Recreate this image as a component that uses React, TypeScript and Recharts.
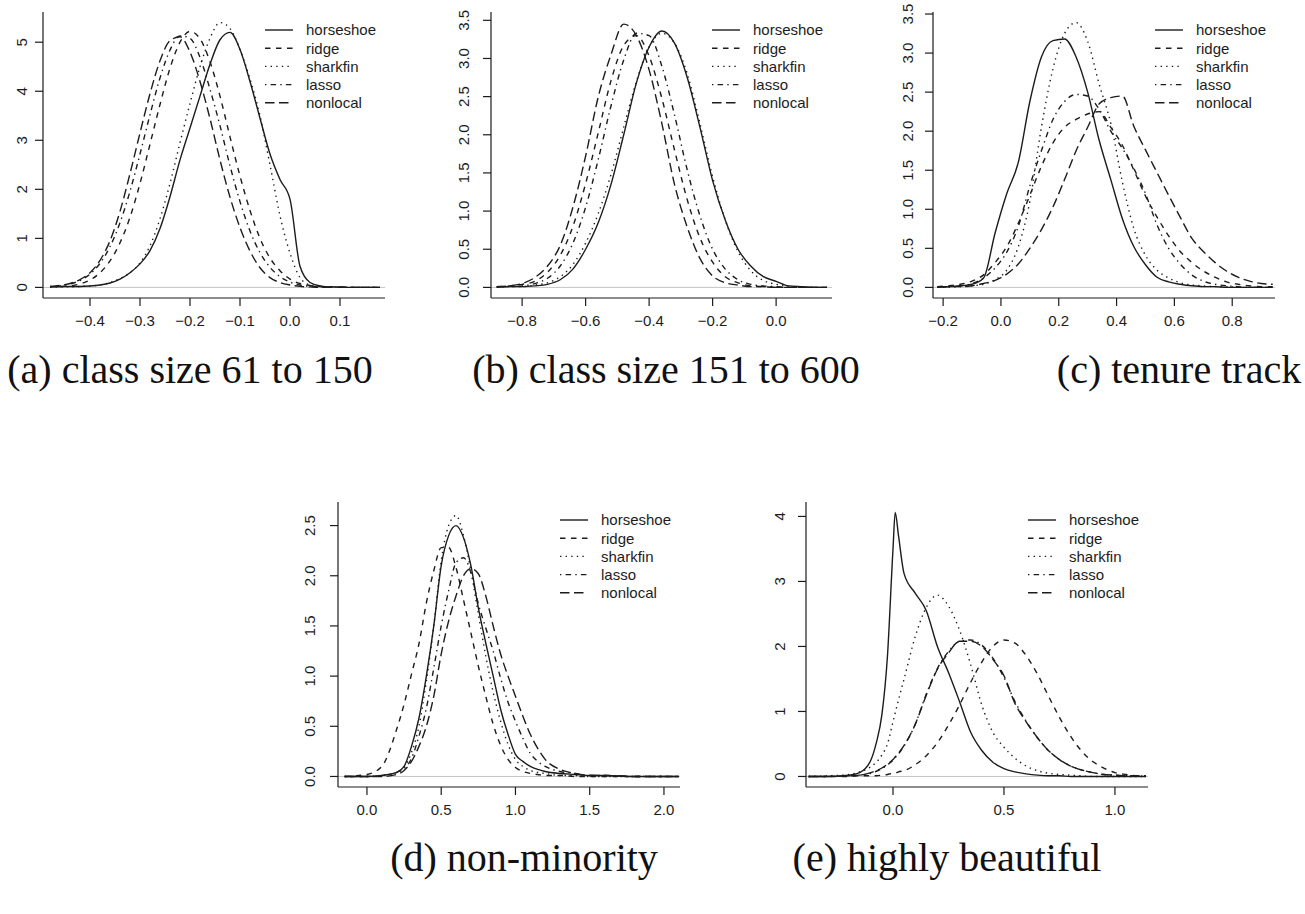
import React from "react";
import { LineChart, Line, XAxis, YAxis, ReferenceLine, Legend } from "recharts";

const SANS = '"Liberation Sans", Arial, Helvetica, sans-serif';
const SERIF = '"Liberation Serif", "Times New Roman", serif';
const INK = "#1c1c1c";

const seriesNames = ["horseshoe", "ridge", "sharkfin", "lasso", "nonlocal"];
const dashes = [undefined, "5.5 5.5", "1.4 4.2", "1.4 4.2 5.5 4.2", "9.5 4.5"];

// (a) class size 61 to 150
const xsA = [-0.48, -0.46, -0.44, -0.42, -0.4, -0.38, -0.36, -0.34, -0.32, -0.3, -0.28, -0.26, -0.24, -0.22, -0.2, -0.18, -0.16, -0.14, -0.12, -0.1, -0.08, -0.06, -0.04, -0.02, 0, 0.02, 0.04, 0.06, 0.08, 0.1, 0.12, 0.14, 0.16, 0.18];
const horseshoeA = [0.01, 0.01, 0.02, 0.02, 0.03, 0.05, 0.09, 0.17, 0.3, 0.48, 0.75, 1.2, 1.85, 2.6, 3.25, 3.9, 4.55, 5.05, 5.2, 4.85, 4.2, 3.45, 2.72, 2.2, 1.8, 0.43, 0.1, 0.03, 0.01, 0.01, 0, 0, 0, 0];
const ridgeA = [0.01, 0.02, 0.03, 0.07, 0.15, 0.3, 0.54, 0.91, 1.43, 2.12, 2.92, 3.73, 4.47, 5.0, 5.22, 5.07, 4.6, 3.9, 3.07, 2.27, 1.57, 1.0, 0.6, 0.34, 0.17, 0.08, 0.04, 0.02, 0.01, 0.01, 0, 0, 0, 0];
const sharkfinA = [0, 0.01, 0.01, 0.02, 0.03, 0.05, 0.1, 0.18, 0.3, 0.5, 0.85, 1.4, 2.12, 2.95, 3.75, 4.5, 5.08, 5.4, 5.28, 4.85, 4.25, 3.5, 2.5, 1.46, 0.7, 0.2, 0.05, 0.02, 0.01, 0, 0, 0, 0, 0];
const lassoA = [0.02, 0.03, 0.07, 0.14, 0.27, 0.49, 0.83, 1.32, 1.96, 2.72, 3.52, 4.27, 4.84, 5.13, 5.08, 4.69, 4.04, 3.3, 2.48, 1.75, 1.15, 0.71, 0.41, 0.22, 0.11, 0.05, 0.02, 0.01, 0, 0, 0, 0, 0, 0];
const nonlocalA = [0.02, 0.04, 0.08, 0.16, 0.3, 0.55, 0.95, 1.55, 2.32, 3.15, 3.95, 4.62, 5.03, 5.11, 4.8, 4.2, 3.44, 2.6, 1.84, 1.22, 0.74, 0.4, 0.2, 0.1, 0.05, 0.02, 0.01, 0, 0, 0, 0, 0, 0, 0];
const xTicksA = [-0.4, -0.3, -0.2, -0.1, 0, 0.1];
const yTicksA = [0, 1, 2, 3, 4, 5];

// (b) class size 151 to 600
const xsB = [-0.88, -0.84, -0.8, -0.76, -0.72, -0.68, -0.64, -0.6, -0.56, -0.52, -0.48, -0.44, -0.4, -0.36, -0.32, -0.28, -0.24, -0.2, -0.16, -0.12, -0.08, -0.04, 0, 0.04, 0.08, 0.12, 0.16];
const horseshoeB = [0, 0.01, 0.01, 0.02, 0.04, 0.1, 0.24, 0.5, 0.85, 1.35, 2.0, 2.68, 3.15, 3.36, 3.2, 2.75, 2.1, 1.4, 0.88, 0.5, 0.28, 0.14, 0.08, 0.02, 0.01, 0, 0];
const ridgeB = [0.01, 0.02, 0.04, 0.08, 0.2, 0.42, 0.8, 1.36, 2.03, 2.71, 3.17, 3.3, 3.03, 2.48, 1.8, 1.15, 0.65, 0.33, 0.14, 0.06, 0.02, 0.01, 0, 0, 0, 0, 0];
const sharkfinB = [0, 0.01, 0.01, 0.03, 0.06, 0.14, 0.3, 0.58, 0.97, 1.48, 2.1, 2.7, 3.15, 3.33, 3.2, 2.8, 2.15, 1.45, 0.88, 0.47, 0.22, 0.09, 0.04, 0.01, 0, 0, 0];
const lassoB = [0.01, 0.01, 0.02, 0.05, 0.12, 0.28, 0.58, 1.05, 1.68, 2.38, 2.98, 3.33, 3.3, 2.9, 2.26, 1.54, 0.94, 0.5, 0.24, 0.1, 0.04, 0.02, 0.01, 0, 0, 0, 0];
const nonlocalB = [0.01, 0.02, 0.05, 0.13, 0.28, 0.55, 1.05, 1.72, 2.5, 3.05, 3.45, 3.3, 2.85, 2.15, 1.35, 0.79, 0.38, 0.15, 0.06, 0.03, 0.01, 0.01, 0, 0, 0, 0, 0];
const xTicksB = [-0.8, -0.6, -0.4, -0.2, 0];
const yTicksB = [0, 0.5, 1, 1.5, 2, 2.5, 3, 3.5];

// (c) tenure track
const xsC = [-0.22, -0.18, -0.14, -0.1, -0.06, -0.02, 0.02, 0.06, 0.1, 0.14, 0.18, 0.22, 0.26, 0.3, 0.34, 0.38, 0.42, 0.46, 0.5, 0.54, 0.58, 0.62, 0.66, 0.7, 0.74, 0.78, 0.82, 0.86, 0.9, 0.94];
const horseshoeC = [0, 0.01, 0.02, 0.04, 0.12, 0.7, 1.2, 1.6, 2.38, 2.95, 3.16, 3.18, 2.95, 2.5, 1.88, 1.38, 0.88, 0.52, 0.29, 0.13, 0.07, 0.04, 0.02, 0.01, 0.01, 0, 0, 0, 0, 0];
const ridgeC = [0.01, 0.02, 0.04, 0.08, 0.16, 0.32, 0.52, 0.82, 1.18, 1.55, 1.85, 2.05, 2.15, 2.22, 2.25, 2.05, 1.82, 1.5, 1.17, 0.9, 0.66, 0.46, 0.32, 0.21, 0.13, 0.07, 0.04, 0.02, 0.01, 0.01];
const sharkfinC = [0, 0, 0.01, 0.02, 0.04, 0.1, 0.22, 0.52, 1.1, 2.05, 2.8, 3.25, 3.39, 3.15, 2.6, 2.1, 1.35, 0.75, 0.41, 0.22, 0.12, 0.06, 0.03, 0.02, 0.01, 0.01, 0, 0, 0, 0];
const lassoC = [0, 0.01, 0.02, 0.05, 0.12, 0.25, 0.45, 0.78, 1.3, 1.75, 2.15, 2.38, 2.47, 2.45, 2.28, 2.0, 1.78, 1.52, 1.2, 0.8, 0.5, 0.3, 0.16, 0.08, 0.04, 0.02, 0.01, 0, 0, 0];
const nonlocalC = [0, 0.01, 0.01, 0.02, 0.05, 0.09, 0.17, 0.3, 0.5, 0.74, 1.03, 1.38, 1.75, 2.05, 2.35, 2.43, 2.45, 2.06, 1.76, 1.47, 1.18, 0.9, 0.63, 0.46, 0.32, 0.21, 0.13, 0.08, 0.05, 0.04];
const xTicksC = [-0.2, 0, 0.2, 0.4, 0.6, 0.8];
const yTicksC = [0, 0.5, 1, 1.5, 2, 2.5, 3, 3.5];

// (d) non-minority
const xsD = [-0.15, 0, 0.1, 0.2, 0.25, 0.3, 0.35, 0.4, 0.45, 0.5, 0.55, 0.6, 0.65, 0.7, 0.75, 0.8, 0.85, 0.9, 0.95, 1.0, 1.05, 1.1, 1.15, 1.2, 1.3, 1.4, 1.5, 1.6, 1.8, 2.0, 2.1];
const horseshoeD = [0, 0, 0.01, 0.04, 0.1, 0.3, 0.58, 1.0, 1.5, 2.1, 2.4, 2.5, 2.38, 2.1, 1.68, 1.33, 1.0, 0.67, 0.42, 0.22, 0.15, 0.1, 0.07, 0.05, 0.03, 0.02, 0.01, 0.01, 0, 0, 0];
const ridgeD = [0, 0.02, 0.1, 0.47, 0.72, 1.02, 1.32, 1.73, 2.05, 2.28, 2.28, 2.08, 1.76, 1.43, 1.1, 0.8, 0.52, 0.31, 0.17, 0.09, 0.05, 0.03, 0.02, 0.01, 0.01, 0, 0, 0, 0, 0, 0];
const sharkfinD = [0, 0, 0.01, 0.04, 0.09, 0.24, 0.5, 0.95, 1.5, 2.15, 2.5, 2.6, 2.4, 2.05, 1.62, 1.2, 0.84, 0.55, 0.32, 0.17, 0.1, 0.06, 0.04, 0.03, 0.01, 0.01, 0, 0, 0, 0, 0];
const lassoD = [0, 0, 0.01, 0.04, 0.08, 0.18, 0.4, 0.68, 1.08, 1.5, 1.85, 2.13, 2.18, 2.03, 1.72, 1.48, 1.25, 0.98, 0.74, 0.55, 0.38, 0.23, 0.15, 0.1, 0.05, 0.03, 0.01, 0.01, 0, 0, 0];
const nonlocalD = [0, 0, 0, 0.02, 0.06, 0.15, 0.3, 0.5, 0.8, 1.22, 1.55, 1.8, 2.0, 2.07, 2.02, 1.8, 1.5, 1.22, 1.0, 0.8, 0.6, 0.42, 0.28, 0.17, 0.07, 0.03, 0.01, 0.01, 0, 0, 0];
const xTicksD = [0, 0.5, 1, 1.5, 2];
const yTicksD = [0, 0.5, 1, 1.5, 2, 2.5];

// (e) highly beautiful
const xsE = [-0.38, -0.3, -0.2, -0.15, -0.1, -0.075, -0.05, -0.025, 0, 0.01, 0.025, 0.05, 0.1, 0.15, 0.2, 0.25, 0.3, 0.35, 0.4, 0.45, 0.5, 0.55, 0.6, 0.65, 0.7, 0.75, 0.8, 0.85, 0.9, 0.95, 1.0, 1.05, 1.1, 1.14];
const horseshoeE = [0, 0, 0.02, 0.06, 0.25, 0.52, 0.95, 1.85, 3.5, 4.06, 3.7, 3.12, 2.82, 2.55, 2.0, 1.6, 1.15, 0.68, 0.4, 0.22, 0.12, 0.07, 0.04, 0.02, 0.01, 0.01, 0, 0, 0, 0, 0, 0, 0, 0];
const ridgeE = [0, 0, 0, 0.01, 0.01, 0.01, 0.02, 0.03, 0.05, 0.05, 0.07, 0.09, 0.18, 0.32, 0.52, 0.79, 1.1, 1.45, 1.76, 2.0, 2.1, 2.05, 1.86, 1.58, 1.24, 0.91, 0.62, 0.39, 0.23, 0.13, 0.06, 0.03, 0.01, 0.01];
const sharkfinE = [0, 0.01, 0.03, 0.07, 0.15, 0.22, 0.33, 0.5, 0.84, 0.98, 1.18, 1.5, 2.15, 2.6, 2.79, 2.62, 2.25, 1.72, 1.1, 0.68, 0.45, 0.28, 0.16, 0.09, 0.05, 0.03, 0.02, 0.01, 0, 0, 0, 0, 0, 0];
const lassoE = [0, 0, 0.01, 0.02, 0.05, 0.08, 0.12, 0.18, 0.25, 0.29, 0.35, 0.47, 0.8, 1.27, 1.66, 1.92, 2.08, 2.1, 2.02, 1.82, 1.52, 1.15, 0.85, 0.6, 0.4, 0.26, 0.16, 0.1, 0.06, 0.03, 0.02, 0.01, 0.01, 0];
const nonlocalE = [0, 0, 0.01, 0.02, 0.06, 0.09, 0.13, 0.19, 0.26, 0.3, 0.36, 0.48, 0.8, 1.25, 1.65, 1.9, 2.08, 2.08, 2.0, 1.8, 1.55, 1.12, 0.84, 0.6, 0.4, 0.26, 0.16, 0.1, 0.06, 0.03, 0.02, 0.01, 0.01, 0];
const xTicksE = [0, 0.5, 1];
const yTicksE = [0, 1, 2, 3, 4];

const captions = ["(a) class size 61 to 150", "(b) class size 151 to 600", "(c) tenure track", "(d) non-minority", "(e) highly beautiful"];

function toRows(xs: number[], cols: number[][]) {
  return xs.map((x, i) => {
    const r: any = { x };
    seriesNames.forEach((n, k) => (r[n] = cols[k][i]));
    return r;
  });
}

const panels = [
  { left: 0, top: 0, right: 430, plotLeft: 43, plotRight: 385, plotTop: 12, plotBottom: 298, rows: toRows(xsA, [horseshoeA, ridgeA, sharkfinA, lassoA, nonlocalA]), xDomain: [-0.494, 0.19], yDomain: [-0.216, 5.616], xTicks: xTicksA, yTicks: yTicksA, yDec: 0, labelDist: 21.5, capX: 190, capY: 383 },
  { left: 430, top: 0, right: 870, plotLeft: 491, plotRight: 832, plotTop: 12, plotBottom: 298, rows: toRows(xsB, [horseshoeB, ridgeB, sharkfinB, lassoB, nonlocalB]), xDomain: [-0.898, 0.176], yDomain: [-0.139, 3.609], xTicks: xTicksB, yTicks: yTicksB, yDec: 1, labelDist: 27.5, capX: 666, capY: 383 },
  { left: 870, top: 0, right: 1305, plotLeft: 933, plotRight: 1275, plotTop: 12, plotBottom: 298, rows: toRows(xsC, [horseshoeC, ridgeC, sharkfinC, lassoC, nonlocalC]), xDomain: [-0.235, 0.948], yDomain: [-0.136, 3.526], xTicks: xTicksC, yTicks: yTicksC, yDec: 1, labelDist: 25, capX: 1179, capY: 383 },
  { left: 260, top: 490, right: 700, plotLeft: 338, plotRight: 680, plotTop: 502, plotBottom: 787, rows: toRows(xsD, [horseshoeD, ridgeD, sharkfinD, lassoD, nonlocalD]), xDomain: [-0.195, 2.108], yDomain: [-0.105, 2.735], xTicks: xTicksD, yTicks: yTicksD, yDec: 1, labelDist: 28, capX: 524, capY: 871 },
  { left: 700, top: 490, right: 1160, plotLeft: 806, plotRight: 1148, plotTop: 502, plotBottom: 787, rows: toRows(xsE, [horseshoeE, ridgeE, sharkfinE, lassoE, nonlocalE]), xDomain: [-0.392, 1.149], yDomain: [-0.162, 4.222], xTicks: xTicksE, yTicks: yTicksE, yDec: 0, labelDist: 26.5, capX: 947, capY: 871 },
];

const fmtX = (v: number) => (v < 0 ? "\u2212" : "") + Math.abs(v).toFixed(1);

function RotTick(props: any) {
  const { x, y, payload, dist, dec } = props;
  const bx = x - (dist - 15.4);
  return (
    <text x={bx} y={y} transform={`rotate(-90 ${bx} ${y})`} textAnchor="middle" fontSize={15} fontFamily={SANS} fill={INK}>
      {Number(payload.value).toFixed(dec)}
    </text>
  );
}

function LegendBox() {
  return (
    <svg width={150} height={100}>
      {seriesNames.map((n, k) => {
        const y = 9 + k * 18.2;
        return (
          <g key={n}>
            <line x1={2} x2={30} y1={y} y2={y} stroke={INK} strokeWidth={1.4} strokeDasharray={dashes[k]} />
            <text x={43} y={y + 5.3} fontSize={15} fontFamily={SANS} fill={INK}>{n}</text>
          </g>
        );
      })}
    </svg>
  );
}

function DensityPanel({ p }: any) {
  const W = p.right - p.left;
  const H = p.plotBottom - p.top + 40;
  return (
    <div style={{ position: "absolute", left: p.left, top: p.top }}>
      <LineChart width={W} height={H} data={p.rows} margin={{ top: p.plotTop - p.top, right: p.right - p.plotRight, bottom: 0, left: 0 }}>
        <XAxis
          dataKey="x"
          type="number"
          domain={p.xDomain}
          ticks={p.xTicks}
          allowDataOverflow
          height={40}
          tickSize={8}
          tickMargin={9}
          tickFormatter={fmtX}
          axisLine={{ stroke: INK, strokeWidth: 1.2 }}
          tickLine={{ stroke: INK, strokeWidth: 1.2 }}
          tick={{ fill: INK, fontSize: 15, fontFamily: SANS }}
        />
        <YAxis
          type="number"
          domain={p.yDomain}
          ticks={p.yTicks}
          allowDataOverflow
          width={p.plotLeft - p.left}
          tickSize={8}
          axisLine={{ stroke: INK, strokeWidth: 1.2 }}
          tickLine={{ stroke: INK, strokeWidth: 1.2 }}
          tick={(t: any) => <RotTick {...t} dist={p.labelDist} dec={p.yDec} />}
        />
        <ReferenceLine y={0} stroke="#c4c4c4" strokeWidth={1} />
        {seriesNames.map((n, k) => (
          <Line key={n} dataKey={n} type="monotone" stroke={INK} strokeWidth={1.4} strokeDasharray={dashes[k]} dot={false} activeDot={false} isAnimationActive={false} />
        ))}
        <Legend
          layout="vertical"
          align="center"
          verticalAlign="middle"
          wrapperStyle={{ position: "absolute", left: p.plotRight - 120 - p.left - 2, top: p.plotTop + 18 - 9 - p.top, width: 150, height: 100 }}
          content={() => <LegendBox />}
        />
      </LineChart>
    </div>
  );
}

export default function App() {
  return (
    <div style={{ position: "absolute", left: 0, top: 0, width: 1305, height: 914, background: "#fff", overflow: "hidden" }}>
      <svg width={1305} height={914} style={{ position: "absolute", left: 0, top: 0 }}>
        {panels.map((p, i) => (
          <text key={i} x={p.capX} y={p.capY} textAnchor="middle" fontSize={40} fontFamily={SERIF} fill="#111">
            {captions[i]}
          </text>
        ))}
      </svg>
      {panels.map((p, i) => (
        <DensityPanel key={i} p={p} />
      ))}
    </div>
  );
}
